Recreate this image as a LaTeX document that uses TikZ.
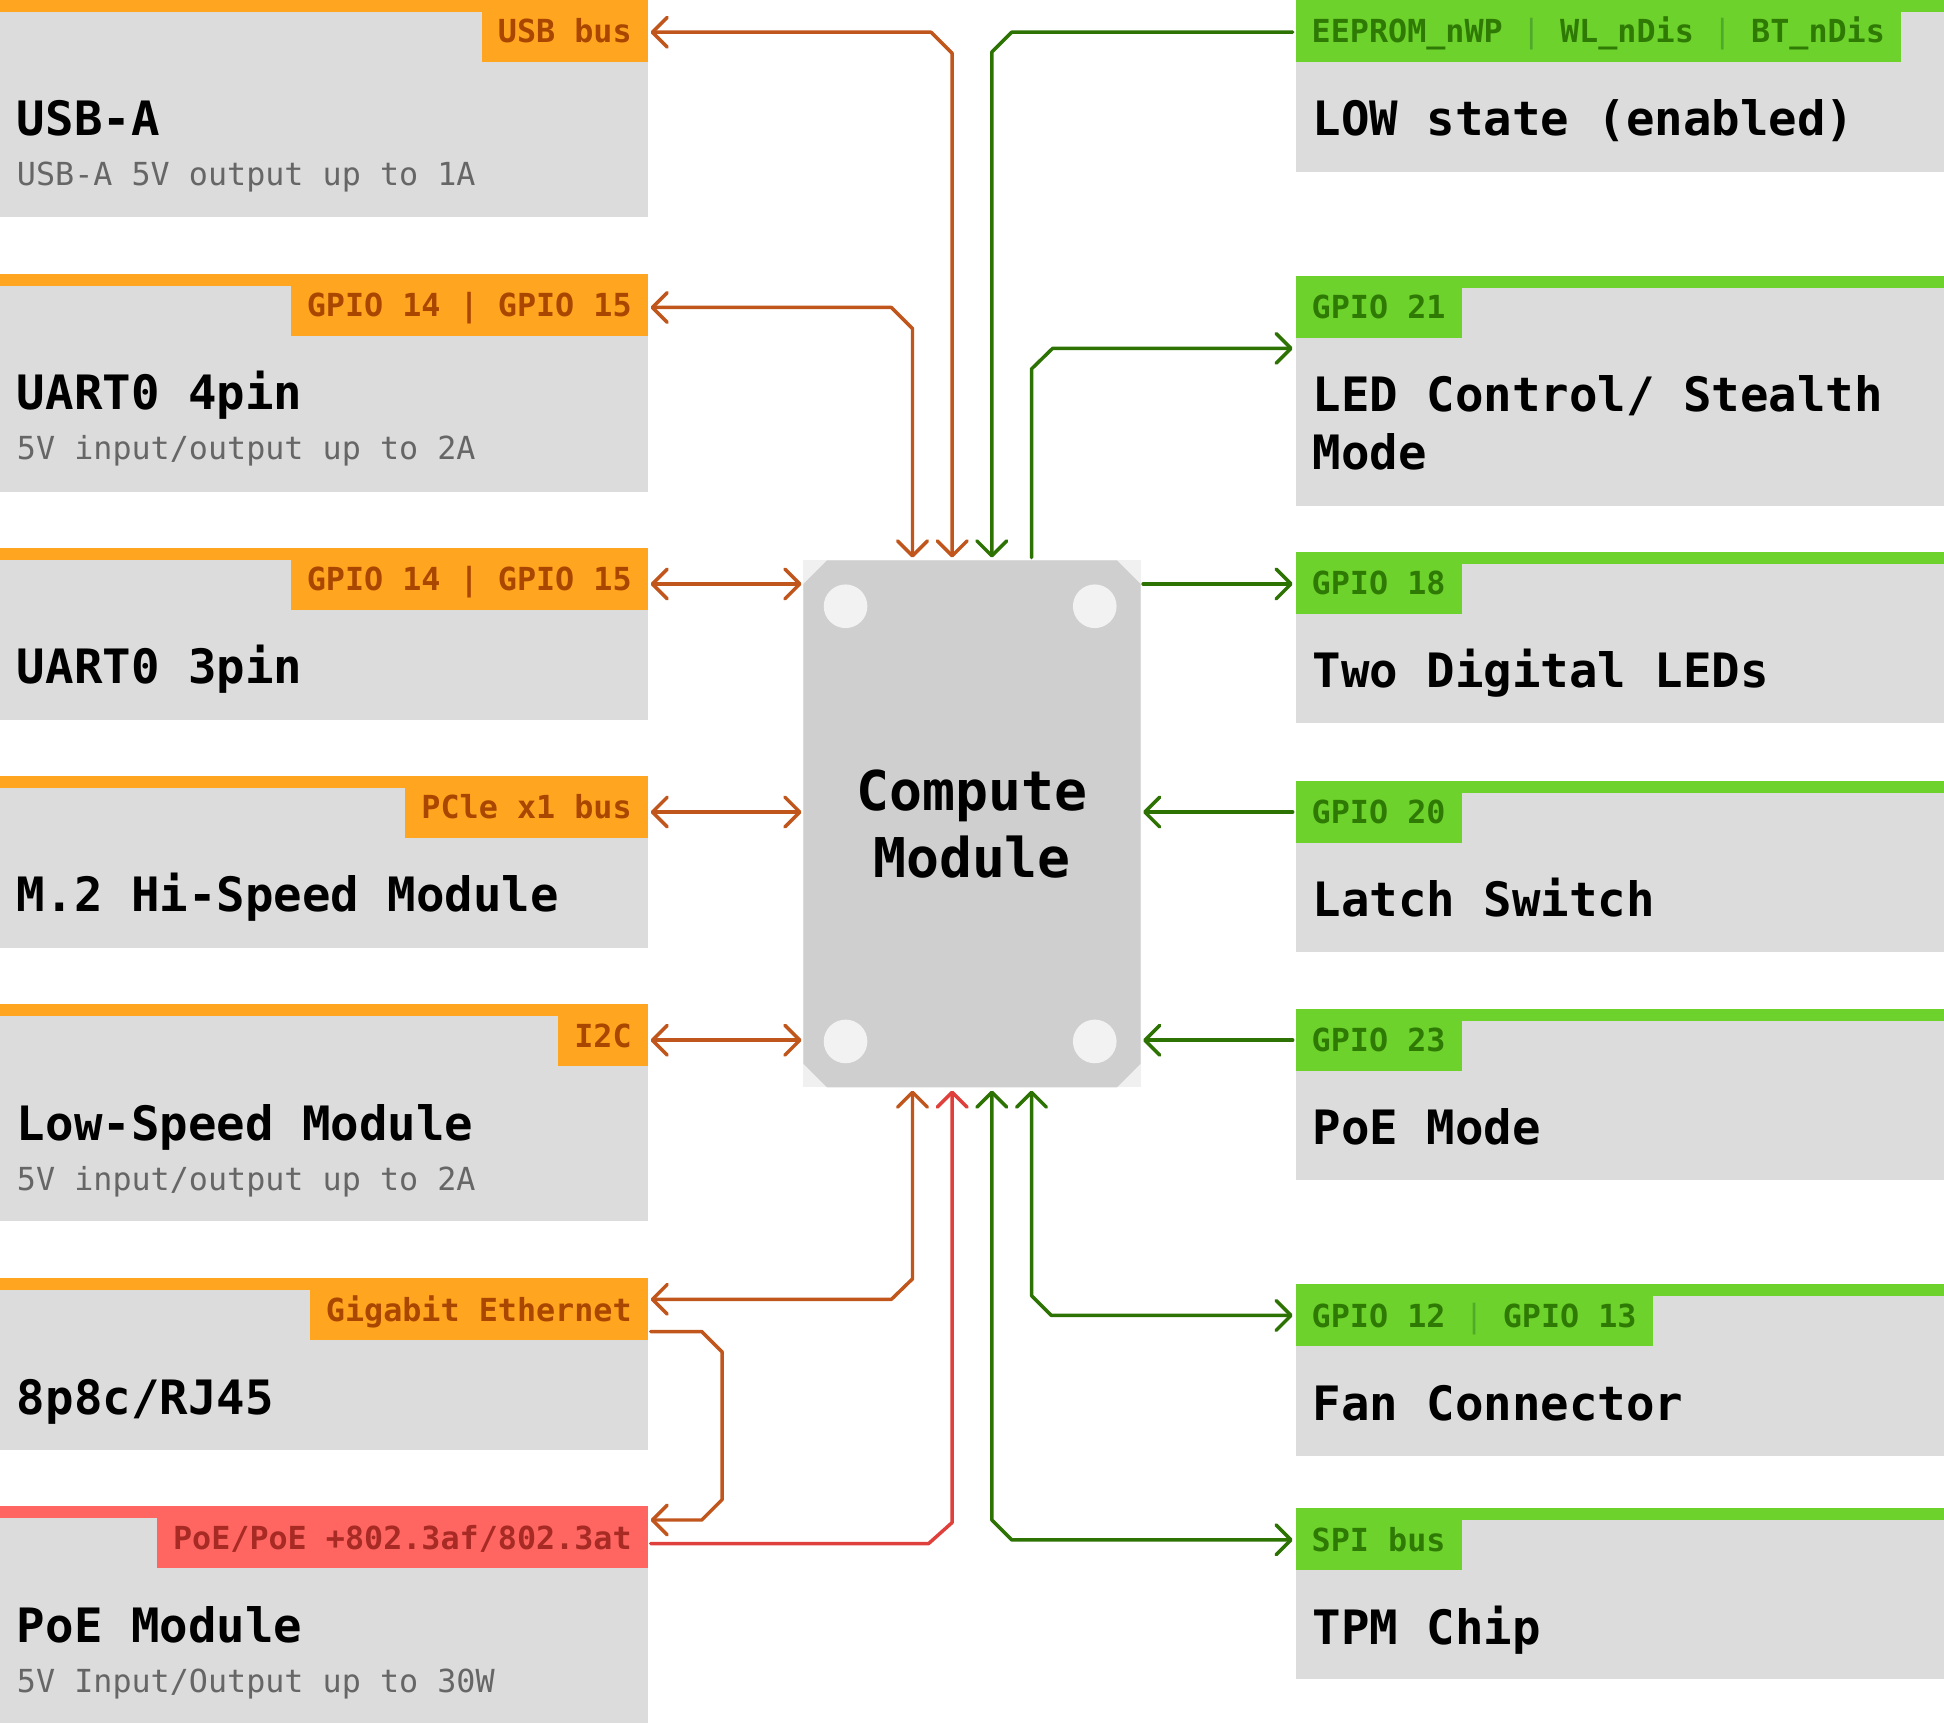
\documentclass[tikz,border=0pt]{standalone}
\usepackage{fontspec}
\usetikzlibrary{arrows.meta,calc}
\newfontfamily\monofam{DejaVu Sans Mono}
\newcommand\myttl{\monofam\bfseries\fontsize{38.2}{46.6}\selectfont}
\newcommand\mylab{\monofam\bfseries\fontsize{25.6}{30}\selectfont}
\newcommand\mysub{\monofam\fontsize{25.6}{30}\selectfont}
\newcommand\mycm{\monofam\bfseries\fontsize{44.2}{54}\selectfont}
\definecolor{ofill}{HTML}{FFA51F}
\definecolor{otext}{HTML}{A94600}
\definecolor{oline}{HTML}{C1561D}
\definecolor{gfill}{HTML}{6DD22B}
\definecolor{gtext}{HTML}{2E7A05}
\definecolor{gline}{HTML}{2D7304}
\definecolor{gsepc}{HTML}{4FA92A}
\definecolor{rfill}{HTML}{FF6661}
\definecolor{rtext}{HTML}{A82A24}
\definecolor{rline}{HTML}{E0403B}
\definecolor{boxgray}{HTML}{DCDCDC}
\definecolor{cmgray}{HTML}{CFCFCF}
\definecolor{cmbg}{HTML}{F0F0F0}
\definecolor{holec}{HTML}{F2F2F2}
\definecolor{subgray}{HTML}{666666}
\newcommand\gsep{{\mdseries\color{gsepc}|}}
\tikzset{
  lbox/.style={fill=boxgray, anchor=north west, inner sep=0pt, outer sep=0pt, minimum width=522.5pt},
  rbox/.style={fill=boxgray, anchor=north west, inner sep=0pt, outer sep=0pt, minimum width=523pt},
  tabbase/.style={inner xsep=13pt, inner ysep=0pt, outer sep=0pt, minimum height=50pt, text height=19pt, text depth=0pt, font=\mylab},
  ltab/.style={tabbase, anchor=north east},
  rtab/.style={tabbase, anchor=north west, fill=gfill, text=gtext},
  ttl/.style={anchor=base west, inner sep=0pt, font=\myttl, align=left},
  sub/.style={anchor=base west, inner sep=0pt, font=\mysub, text=subgray},
  conn/.style={line width=2.8pt, line cap=round, line join=round},
  oconn/.style={conn, draw=oline},
  gconn/.style={conn, draw=gline},
  rconn/.style={conn, draw=rline},
}
\newcommand\mkleft[7]{%
  \node[lbox, minimum height=#3pt] (#1) at (0,#2) {};
  \fill[#4] (#1.north west) rectangle ($(#1.north east)+(0,9.7)$);
  \node[ltab, fill=#4, text=#5] (#1tab) at (#1.north east) {#6};
  \node[ttl] (#1title) at ($(#1.north west)+(13.5,109.5)$) {#7};
}
\newcommand\mkright[6]{%
  \node[rbox, minimum height=#3pt] (#1) at (1045,#2) {};
  \fill[gfill] (#1.north west) rectangle ($(#1.north east)+(0,9.7)$);
  \node[rtab] (#1tab) at (#1.north west) {#4};
  \node[ttl] (#1title) at ($(#1.north west)+(13.5,#6)$) {#5};
}
\begin{document}
\begin{tikzpicture}[x=1pt, y=-1pt, >={Straight Barb[length=12pt,width=24pt,line cap=round,line join=round]}]
\useasboundingbox (0,0) rectangle (1568,1397);
% left column
\mkleft{usb}{0}{175}{ofill}{otext}{USB bus}{USB-A}
\node[sub] (usbsub) at ($(usb.north west)+(13.5,150)$) {USB-A 5V output up to 1A};
\mkleft{uartf}{221}{175.6}{ofill}{otext}{GPIO 14 | GPIO 15}{UART0 4pin}
\node[sub] (uartfsub) at ($(uartf.north west)+(13.5,150)$) {5V input/output up to 2A};
\mkleft{uartt}{442}{138.5}{ofill}{otext}{GPIO 14 | GPIO 15}{UART0 3pin}
\mkleft{mtwo}{626}{138.4}{ofill}{otext}{PCle x1 bus}{M.2 Hi-Speed Module}
\mkleft{ltc}{810}{175}{ofill}{otext}{I2C}{Low-Speed Module}
\node[sub] (ltcsub) at ($(ltc.north west)+(13.5,150)$) {5V input/output up to 2A};
\mkleft{gig}{1031}{138.3}{ofill}{otext}{Gigabit Ethernet}{8p8c/RJ45}
\mkleft{poe}{1215}{175}{rfill}{rtext}{PoE/PoE +802.3af/802.3at}{PoE Module}
\node[sub] (poesub) at ($(poe.north west)+(13.5,150)$) {5V Input/Output up to 30W};
% right column
\mkright{low}{0}{138.5}{EEPROM\_nWP \gsep{} WL\_nDis \gsep{} BT\_nDis}{LOW state (enabled)}{109.5}
\mkright{led}{222.6}{185.4}{GPIO 21}{LED Control/ Stealth\\Mode}{156.1}
\mkright{digi}{445}{138.3}{GPIO 18}{Two Digital LEDs}{109.5}
\mkright{latch}{630}{137.5}{GPIO 20}{Latch Switch}{109.5}
\mkright{pmode}{814}{137.5}{GPIO 23}{PoE Mode}{109.5}
\mkright{fan}{1036}{138}{GPIO 12 \gsep{} GPIO 13}{Fan Connector}{109.5}
\mkright{tpm}{1216.6}{138}{SPI bus}{TPM Chip}{109.5}
% compute module
\node[fill=cmbg, minimum width=272pt, minimum height=425pt, inner sep=0pt, outer sep=0pt] (cm) at (784,664.5) {};
\fill[cmgray] ($(cm.north west)+(19,0)$) -- ($(cm.north east)+(-19,0)$) -- ($(cm.north east)+(0,19)$)
  -- ($(cm.south east)+(0,-19)$) -- ($(cm.south east)+(-19,0)$) -- ($(cm.south west)+(19,0)$)
  -- ($(cm.south west)+(0,-19)$) -- ($(cm.north west)+(0,19)$) -- cycle;
\fill[holec] ($(cm.north west)+(34,37)$) circle[radius=17.6pt];
\fill[holec] ($(cm.north east)+(-37,37)$) circle[radius=17.6pt];
\fill[holec] ($(cm.south west)+(34,-37)$) circle[radius=17.6pt];
\fill[holec] ($(cm.south east)+(-37,-37)$) circle[radius=17.6pt];
\node[font=\mycm, align=center, inner sep=0pt] (cmlabel) at (cm.center) {Compute\\Module};
% ports
\coordinate (lx) at ($(usb.north east)+(2.3,0)$);
\coordinate (rx) at ($(low.north west)+(-2.3,0)$);
\coordinate (cml) at ($(cm.north west)+(-1.5,0)$);
\coordinate (cmr) at ($(cm.north east)+(2,0)$);
\coordinate (h1) at ($(cm.north west)+(0,19)$);
\coordinate (h2) at ($(cm.north west)+(0,203)$);
\coordinate (h3) at ($(cm.north west)+(0,387)$);
\coordinate (t1) at ($(cm.north west)+(88,-2.3)$);
\coordinate (t2) at ($(cm.north west)+(120,-2.3)$);
\coordinate (t3) at ($(cm.north west)+(152,-2.3)$);
\coordinate (t4) at ($(cm.north west)+(184,-2.3)$);
\coordinate (b1) at ($(cm.south west)+(88,2.6)$);
\coordinate (b2) at ($(cm.south west)+(120,2.6)$);
\coordinate (b3) at ($(cm.south west)+(152,2.6)$);
\coordinate (b4) at ($(cm.south west)+(184,2.6)$);
% orange connectors
\draw[oconn,<->] ($(usbtab.north east)+(2.3,26)$) -- ($(t2 |- usbtab.north)+(-17,26)$) -- ($(t2 |- usbtab.north)+(0,43)$) -- (t2);
\draw[oconn,<->] ($(uartftab.north east)+(2.3,27)$) -- ($(t1 |- uartftab.north)+(-17,27)$) -- ($(t1 |- uartftab.north)+(0,44)$) -- (t1);
\draw[oconn,<->] (lx |- h1) -- (cml |- h1);
\draw[oconn,<->] (lx |- h2) -- (cml |- h2);
\draw[oconn,<->] (lx |- h3) -- (cml |- h3);
\draw[oconn,<->] ($(gigtab.north east)+(2.3,17)$) -- ($(b1 |- gigtab.north)+(-17,17)$) -- ($(b1 |- gigtab.north)+(0,0.5)$) -- (b1);
\draw[oconn,->] ($(gigtab.north east)+(2.3,43)$) -- ++(41.2,0) -- ++(16.5,16.5) -- ++(0,119) -- ++(-16.5,16.5) -- ($(poetab.north east)+(2.3,11)$);
% red connector
\draw[rconn,->] ($(poetab.north east)+(2.3,30)$) -- ($(b2 |- poetab.north)+(-19,30)$) -- ($(b2 |- poetab.north)+(0,13)$) -- (b2);
% green connectors
\draw[gconn,->] ($(lowtab.north west)+(-2.3,26)$) -- ($(t3 |- lowtab.north)+(16,26)$) -- ($(t3 |- lowtab.north)+(0,42)$) -- (t3);
\draw[gconn,->] (t4) -- ($(t4 |- led.north)+(0,75)$) -- ($(t4 |- led.north)+(17,58.4)$) -- ($(led.north west)+(-2.3,58.4)$);
\draw[gconn,->] (cmr |- h1) -- (rx |- h1);
\draw[gconn,->] (rx |- h2) -- (cmr |- h2);
\draw[gconn,->] (rx |- h3) -- (cmr |- h3);
\draw[gconn,<->] (b4) -- ($(b4 |- fantab.north)+(0,9)$) -- ($(b4 |- fantab.north)+(16,25)$) -- ($(fantab.north west)+(-2.3,25)$);
\draw[gconn,<->] (b3) -- ($(b3 |- tpmtab.north)+(0,9.4)$) -- ($(b3 |- tpmtab.north)+(16,25.4)$) -- ($(tpmtab.north west)+(-2.3,25.4)$);
\end{tikzpicture}
\end{document}
